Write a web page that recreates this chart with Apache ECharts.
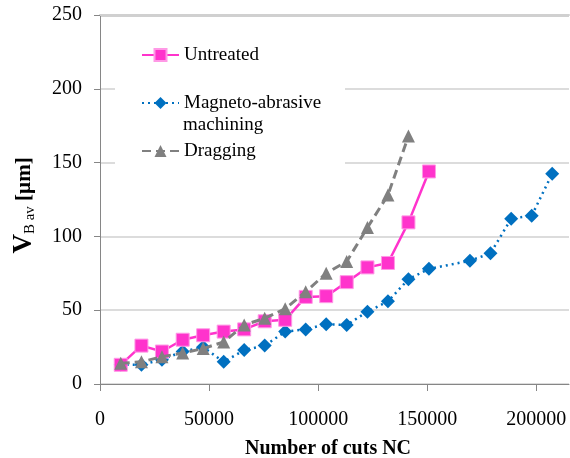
<!DOCTYPE html>
<html>
<head>
<meta charset="utf-8">
<script src="https://cdn.jsdelivr.net/npm/echarts@6/dist/echarts.min.js"></script>
<style>html,body{margin:0;padding:0;background:#fff;}#c{width:570px;height:458px;}</style>
</head>
<body>
<div id="c"></div>
<script>
var seriesNames = ['Untreated', 'Magneto-abrasive machining', 'Dragging'];
var untreatedX = [9500, 19000, 28400, 37900, 47300, 56700, 66100, 75500, 84900, 94300, 103700, 113100, 122600, 132000, 141400, 150800];
var untreatedY = [13, 26, 22, 30, 33, 35.5, 37, 42.5, 43.5, 59, 59.5, 69, 79, 82, 109.5, 144];
var magnetoX = [9500, 19000, 28400, 37900, 47300, 56700, 66100, 75500, 84900, 94300, 103700, 113100, 122600, 132000, 141400, 150800, 169600, 179000, 188500, 197900, 207300];
var magnetoY = [13, 13, 16.5, 22, 25, 15, 23, 26, 35.5, 37, 40.5, 40, 49, 56, 71, 78, 83.5, 88.5, 112, 114, 142.5];
var draggingX = [9500, 19000, 28400, 37900, 47300, 56700, 66100, 75500, 84900, 94300, 103700, 113100, 122600, 132000, 141400];
var draggingY = [14, 15, 18.5, 21, 24, 28.5, 40, 44.5, 51, 62.5, 75, 83, 106, 128, 168];
var xTicks = [0, 50000, 100000, 150000, 200000];
var yTicks = [0, 50, 100, 150, 200, 250];

function pairs(xs, ys) { return xs.map(function (x, i) { return [x, ys[i]]; }); }

var serif = '"Liberation Serif", "Times New Roman", serif';
var chart = echarts.init(document.getElementById('c'), null, { renderer: 'canvas' });
chart.setOption({
  animation: false,
  backgroundColor: '#fff',
  textStyle: { fontFamily: serif },
  grid: { left: 100, top: 15, right: 1, bottom: 74, containLabel: false, outerBoundsMode: 'none',
    show: true, borderWidth: 0, backgroundColor: 'transparent' },
  xAxis: [{
    type: 'value', min: 0, max: 215000, interval: 50000,
    name: 'Number of cuts NC', nameLocation: 'middle', nameGap: 55,
    nameTextStyle: { fontFamily: serif, fontSize: 20, fontWeight: 'bold', color: '#000', padding: [0, 13, 0, 0] },
    axisLine: { lineStyle: { color: '#868686', width: 1 } },
    axisTick: { show: true, length: 7, lineStyle: { color: '#868686' } },
    axisLabel: { fontFamily: serif, fontSize: 20, color: '#000', margin: 26, showMaxLabel: false,
      formatter: function (v) { return xTicks.indexOf(v) >= 0 ? String(v) : ''; } },
    splitLine: { show: false }
  }, {
    type: 'value', position: 'top', min: 0, max: 215000, interval: 50000,
    axisLine: { show: true, onZero: false, lineStyle: { color: '#D0D0D0', width: 2 } },
    axisTick: { show: false }, axisLabel: { show: false }, splitLine: { show: false }
  }],
  yAxis: {
    type: 'value', min: 0, max: 250, interval: 50,
    name: '{v|V}{s|B av}{u| [µm]}', nameLocation: 'middle', nameGap: 62, nameRotate: 90,
    nameTextStyle: {
      color: '#000', padding: [0, 12, 0, 0],
      rich: {
        v: { fontFamily: serif, fontSize: 27, fontWeight: 'bold', color: '#000' },
        s: { fontFamily: serif, fontSize: 15, color: '#000', verticalAlign: 'bottom', lineHeight: 20 },
        u: { fontFamily: serif, fontSize: 21, fontWeight: 'bold', color: '#000' }
      }
    },
    axisLine: { show: true, lineStyle: { color: '#868686', width: 1 } },
    axisTick: { show: true, length: 6, lineStyle: { color: '#868686' } },
    axisLabel: { fontFamily: serif, fontSize: 20, color: '#000', margin: 18,
      formatter: function (v) { return yTicks.indexOf(v) >= 0 ? String(v) : ''; } },
    splitLine: { show: true, showMaxLine: true, lineStyle: { color: '#D0D0D0', width: 1.5 } }
  },
  legend: {
    orient: 'vertical', left: 141, top: 44, padding: 0, itemGap: 26,
    itemWidth: 37, itemHeight: 15,
    data: seriesNames,
    formatter: function (n) { return n === 'Magneto-abrasive machining' ? 'Magneto-abrasive' : n; },
    textStyle: { fontFamily: serif, fontSize: 19, color: '#000', lineHeight: 22 }
  },
  graphic: [
    { type: 'rect', left: 115, top: 30, shape: { width: 230, height: 142 }, style: { fill: '#fff' }, z: 1, silent: true },
    { type: 'text', left: 183, top: 116, z: 5, style: { text: 'machining', font: '19px ' + serif, fill: '#000' } }
  ],
  series: [
    {
      name: seriesNames[0], type: 'line', data: pairs(untreatedX, untreatedY), clip: false,
      symbol: 'rect', symbolSize: 13, z: 3,
      lineStyle: { color: '#FF33CC', width: 2.5 },
      itemStyle: { color: '#FF33CC', borderColor: '#FF99E6', borderWidth: 1 },
      markLine: {
        silent: true, symbol: 'none', label: { show: false }, z: 0,
        lineStyle: { color: '#D0D0D0', width: 2, type: 'solid' },
        data: [{ yAxis: 249.5 }]
      }
    },
    {
      name: seriesNames[1], type: 'line', data: pairs(magnetoX, magnetoY),
      symbol: 'diamond', symbolSize: 14, z: 2,
      lineStyle: { color: '#0070C0', width: 2.5, type: [2, 4] },
      itemStyle: { color: '#0070C0' }
    },
    {
      name: seriesNames[2], type: 'line', data: pairs(draggingX, draggingY),
      symbol: 'triangle', symbolSize: 13, z: 4,
      lineStyle: { color: '#808080', width: 3, type: [9, 5] },
      itemStyle: { color: '#808080' }
    }
  ]
});
</script>
</body>
</html>
